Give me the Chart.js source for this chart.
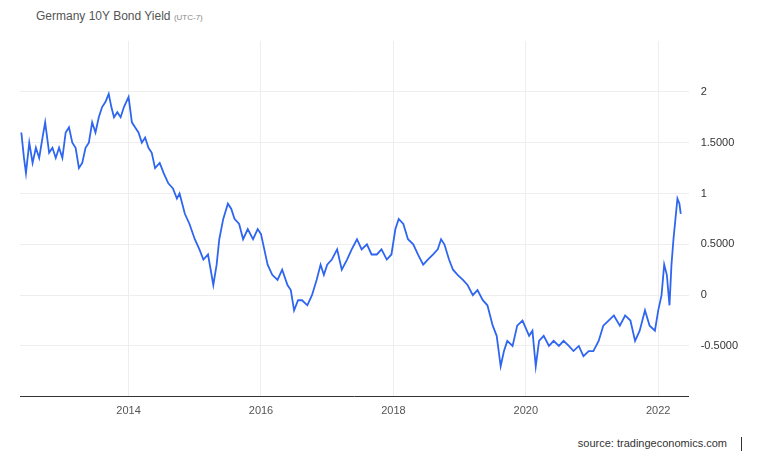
<!DOCTYPE html>
<html><head><meta charset="utf-8">
<script src="https://cdn.jsdelivr.net/npm/chart.js@4"></script>
<style>
body{margin:0;background:#fff;font-family:"Liberation Sans",Arial,sans-serif;}
#t{position:absolute;left:36px;top:9px;font-size:12px;color:#555;}
#t span{font-size:8px;color:#888;}
#s{position:absolute;right:26px;top:437px;font-size:11px;color:#333;}
#s:after{content:"";display:inline-block;width:1px;height:14px;background:#333;margin-left:14px;vertical-align:middle;}
#w{position:absolute;left:0;top:0;width:768px;height:462px;}
</style></head><body>
<div id="t">Germany 10Y Bond Yield <span>(UTC-7)</span></div>
<div id="s">source: tradingeconomics.com</div>
<div id="w"><canvas id="c"></canvas></div>
<script>
const years=[2012.38,2012.42,2012.45,2012.5,2012.55,2012.6,2012.65,2012.7,2012.74,2012.8,2012.85,2012.9,2012.95,2013.0,2013.05,2013.1,2013.15,2013.2,2013.25,2013.3,2013.35,2013.4,2013.45,2013.5,2013.55,2013.6,2013.65,2013.7,2013.74,2013.78,2013.83,2013.88,2013.93,2014.0,2014.05,2014.1,2014.15,2014.2,2014.25,2014.3,2014.35,2014.4,2014.47,2014.53,2014.6,2014.67,2014.73,2014.77,2014.85,2014.92,2015.0,2015.07,2015.13,2015.2,2015.28,2015.33,2015.37,2015.43,2015.5,2015.55,2015.6,2015.67,2015.73,2015.8,2015.88,2015.95,2016.0,2016.05,2016.1,2016.17,2016.25,2016.32,2016.4,2016.45,2016.5,2016.56,2016.62,2016.7,2016.77,2016.84,2016.9,2016.95,2017.0,2017.07,2017.15,2017.22,2017.3,2017.37,2017.45,2017.52,2017.6,2017.67,2017.75,2017.82,2017.9,2017.97,2018.03,2018.08,2018.15,2018.22,2018.3,2018.37,2018.45,2018.52,2018.6,2018.67,2018.72,2018.77,2018.84,2018.9,2018.97,2019.05,2019.12,2019.2,2019.27,2019.35,2019.42,2019.5,2019.56,2019.62,2019.67,2019.72,2019.8,2019.87,2019.95,2020.05,2020.1,2020.15,2020.2,2020.27,2020.35,2020.42,2020.5,2020.57,2020.65,2020.72,2020.8,2020.87,2020.95,2021.02,2021.1,2021.17,2021.25,2021.33,2021.42,2021.5,2021.58,2021.65,2021.72,2021.8,2021.87,2021.95,2022.0,2022.05,2022.09,2022.13,2022.17,2022.2,2022.23,2022.26,2022.29,2022.32,2022.34,2022.36];
const yields=[1.6,1.35,1.2,1.5,1.3,1.45,1.35,1.55,1.7,1.4,1.45,1.35,1.45,1.35,1.6,1.65,1.5,1.45,1.25,1.3,1.45,1.5,1.7,1.6,1.75,1.85,1.9,1.98,1.85,1.75,1.8,1.75,1.85,1.95,1.7,1.65,1.6,1.5,1.55,1.45,1.4,1.25,1.3,1.2,1.1,1.05,0.95,1.0,0.8,0.7,0.55,0.45,0.35,0.4,0.1,0.3,0.55,0.75,0.9,0.85,0.75,0.7,0.55,0.65,0.55,0.65,0.6,0.45,0.3,0.2,0.15,0.25,0.1,0.05,-0.15,-0.05,-0.05,-0.1,0.0,0.15,0.3,0.2,0.3,0.35,0.45,0.25,0.35,0.45,0.55,0.45,0.5,0.4,0.4,0.45,0.35,0.4,0.65,0.75,0.7,0.55,0.5,0.4,0.3,0.35,0.4,0.45,0.55,0.5,0.35,0.25,0.2,0.15,0.1,0.0,0.05,-0.05,-0.1,-0.3,-0.4,-0.7,-0.55,-0.45,-0.5,-0.3,-0.25,-0.4,-0.35,-0.7,-0.45,-0.4,-0.5,-0.45,-0.5,-0.45,-0.5,-0.55,-0.5,-0.6,-0.55,-0.55,-0.45,-0.3,-0.25,-0.2,-0.3,-0.2,-0.25,-0.45,-0.35,-0.15,-0.3,-0.35,-0.15,0.0,0.3,0.2,-0.1,0.3,0.55,0.75,0.95,0.9,0.8];
const yTicks=[-0.5,0,0.5,1,1.5,2];
const yLabels=["-0.5000","0","0.5000","1","1.5000","2"];
const xTicks=[2014,2016,2018,2020,2022];
new Chart(document.getElementById('c'),{type:'line',
data:{datasets:[{data:years.map((x,i)=>({x,y:yields[i]})),borderColor:'#2f66f0',borderWidth:1.8,pointRadius:0,tension:0}]},
options:{responsive:true,maintainAspectRatio:false,animation:false,
layout:{padding:{left:20,right:18,top:41,bottom:36}},
plugins:{legend:{display:false},tooltip:{enabled:false}},
scales:{
x:{type:'linear',min:2012.36,max:2022.46,afterBuildTicks:a=>{a.ticks=xTicks.map(v=>({value:v}));},
 grid:{color:'#eeeeee',drawTicks:false},border:{color:'#333',width:1},
 ticks:{color:'#555',font:{size:11,family:'Liberation Sans'},padding:8,callback:v=>String(v)}},
y:{position:'right',min:-1,max:2.5,afterBuildTicks:a=>{a.ticks=yTicks.map(v=>({value:v}));},
 grid:{color:'#eeeeee',drawTicks:false},border:{display:false},
 ticks:{color:'#333',font:{size:11,family:'Liberation Sans'},padding:12,callback:v=>yLabels[yTicks.indexOf(v)]}}
}}});
</script></body></html>
